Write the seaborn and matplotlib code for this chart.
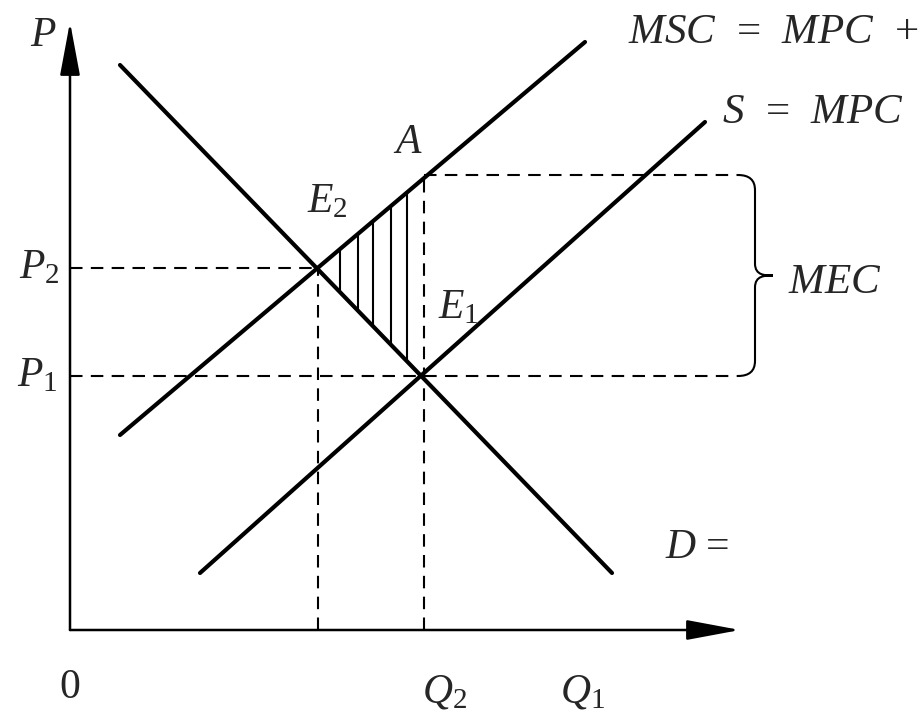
import numpy as np
import pandas as pd
import matplotlib.pyplot as plt
from matplotlib.path import Path
from matplotlib.patches import PathPatch
import seaborn as sns

# curve end points (quantity, price) in diagram units
demand_q = [50, 542]
demand_p = [565, 57]
msc_q = [50, 515]
msc_p = [195, 588]
mpc_q = [130, 635]
mpc_p = [57, 508]

# equilibrium points
q2, p2 = 248, 362      # E2 (MSC = D)
q1, p1 = 354, 254      # E1 (MPC = D)
pa = 455               # A on MSC at q1
hatch_q = [270, 288, 303, 321, 337]
brace_q = 668

sns.set_theme(style="white")
plt.rcParams['mathtext.fontset'] = 'custom'
plt.rcParams['mathtext.it'] = 'Liberation Serif:italic'
plt.rcParams['mathtext.rm'] = 'Liberation Serif'
plt.rcParams['font.family'] = ['Liberation Serif', 'DejaVu Serif']

fig = plt.figure(figsize=(9.23, 7.10), dpi=100)
ax = fig.add_axes([0, 0, 1, 1])
ax.set_xlim(-70, 853)
ax.set_ylim(-80, 630)
ax.axis('off')

curves = pd.DataFrame({
    'q': demand_q + msc_q + mpc_q,
    'p': demand_p + msc_p + mpc_p,
    'curve': ['D'] * 2 + ['MSC'] * 2 + ['MPC'] * 2,
})
sns.lineplot(data=curves, x='q', y='p', hue='curve', units='curve', estimator=None,
             palette=['black'] * 3, linewidth=3, legend=False, ax=ax, sort=False)

# axes with arrows
arrow = dict(arrowstyle='-|>,head_length=1.5,head_width=0.28', mutation_scale=22,
             lw=1.8, color='black', shrinkA=0, shrinkB=0)
ax.annotate('', xy=(0, 608), xytext=(0, 0), arrowprops=arrow)
ax.annotate('', xy=(670, 0), xytext=(0, 0), arrowprops=arrow)

# dashed guide lines
dash = dict(color='black', lw=1.5, linestyle=(0, (6, 4)))
ax.plot([0, q2], [p2, p2], **dash)
ax.plot([q2, q2], [0, p2], **dash)
ax.plot([0, brace_q], [p1, p1], **dash)
ax.plot([q1, brace_q], [pa, pa], **dash)
ax.plot([q1, q1], [0, pa], **dash)

# hatched welfare loss triangle
lo = np.interp(hatch_q, demand_q, demand_p)
hi = np.interp(hatch_q, msc_q, msc_p)
ax.vlines(hatch_q, lo, hi, color='black', lw=1.5)

# curly brace for MEC
xb, xt = brace_q + 17, brace_q + 35
mid = (pa + p1) / 2
verts = [(brace_q, pa), (xb, pa), (xb, pa - 15),
         (xb, mid + 12),
         (xb, mid), (xt - 8, mid), (xt, mid),
         (xt - 8, mid), (xb, mid), (xb, mid - 12),
         (xb, p1 + 15),
         (xb, p1), (brace_q, p1)]
codes = [Path.MOVETO, Path.CURVE3, Path.CURVE3,
         Path.LINETO,
         Path.CURVE4, Path.CURVE4, Path.CURVE4,
         Path.CURVE4, Path.CURVE4, Path.CURVE4,
         Path.LINETO,
         Path.CURVE3, Path.CURVE3]
ax.add_patch(PathPatch(Path(verts, codes), fill=False, lw=1.5, color='black'))

fs = 30
ax.text(-27, 594, r'$P$', fontsize=fs, ha='center', va='center')
ax.text(-10, p2, r'$P_2$', fontsize=fs, ha='right', va='center')
ax.text(-12, p1, r'$P_1$', fontsize=fs, ha='right', va='center')
ax.text(0, -58, r'$0$', fontsize=fs, ha='center', va='center')
ax.text(q1 - 2, -62, r'$Q_2$', fontsize=fs, ha='left', va='center')
ax.text(490, -62, r'$Q_1$', fontsize=fs, ha='left', va='center')
ax.text(595, 82, r'$D$ =', fontsize=fs, ha='left', va='center')
ax.text(257, 428, r'$E_2$', fontsize=fs, ha='center', va='center')
ax.text(338, 487, r'$A$', fontsize=fs, ha='center', va='center')
ax.text(388, 322, r'$E_1$', fontsize=fs, ha='center', va='center')
ax.text(558, 597, r'$MSC$  =  $MPC$  +', fontsize=fs + 1, ha='left', va='center')
ax.text(652, 517, r'$S$  =  $MPC$', fontsize=fs + 1, ha='left', va='center')
ax.text(718, 347, r'$MEC$', fontsize=fs + 1, ha='left', va='center')

fig.savefig('out.png', dpi=100)
